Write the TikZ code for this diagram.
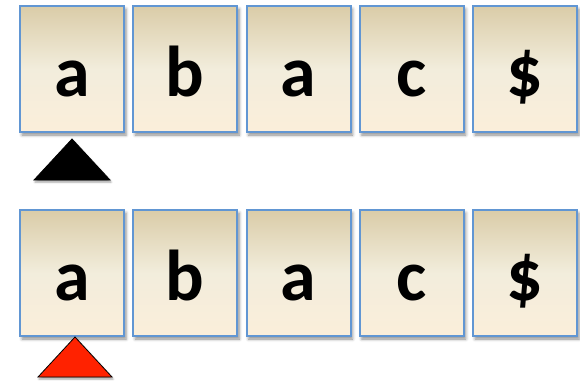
\documentclass[tikz,border=0pt]{standalone}
\usepackage{fontspec}
\setmainfont{Carlito}
\usetikzlibrary{positioning,shadows.blur}
\definecolor{celltop}{HTML}{DACCA8}
\definecolor{cellmid}{HTML}{F2EDDC}
\definecolor{cellbot}{HTML}{FBEEDA}
\definecolor{cellline}{HTML}{6196D3}
\definecolor{ptrred}{HTML}{FF2200}

\begin{document}
\begin{tikzpicture}[x=1pt, y=-1pt, node distance=7.25pt, every node/.style={font=\fontsize{72}{72}\bfseries\selectfont}, cell/.style={draw=cellline,line width=2pt,top color=celltop,bottom color=cellbot,middle color=cellmid,minimum width=104pt,minimum height=126pt,inner sep=0pt,text height=55pt,text depth=0pt,blur shadow={shadow xshift=2pt,shadow yshift=-3pt,shadow blur radius=3pt,shadow opacity=45}}, pointer/.style={line width=0.8pt,blur shadow={shadow xshift=1pt,shadow yshift=-2pt,shadow blur radius=2pt,shadow opacity=40}}]
\useasboundingbox (0,0) rectangle (580,380);
% upper row
\node[cell] (t1) at (72,69) {a};
\node[cell,right=of t1] (t2) {b};
\node[cell,right=of t2] (t3) {a};
\node[cell,right=of t3] (t4) {c};
\node[cell,right=of t4] (t5) {\$};
% lower row
\node[cell] (b1) at (72,273) {a};
\node[cell,right=of b1] (b2) {b};
\node[cell,right=of b2] (b3) {a};
\node[cell,right=of b3] (b4) {c};
\node[cell,right=of b4] (b5) {\$};
% pointers
\draw[pointer,fill=black] ([yshift=-6pt]t1.south) -- ++(38,41) -- ++(-76,0) -- cycle;
\draw[pointer,fill=ptrred] ([xshift=3pt]b1.south) -- ++(37,40) -- ++(-74,0) -- cycle;
\end{tikzpicture}
\end{document}
